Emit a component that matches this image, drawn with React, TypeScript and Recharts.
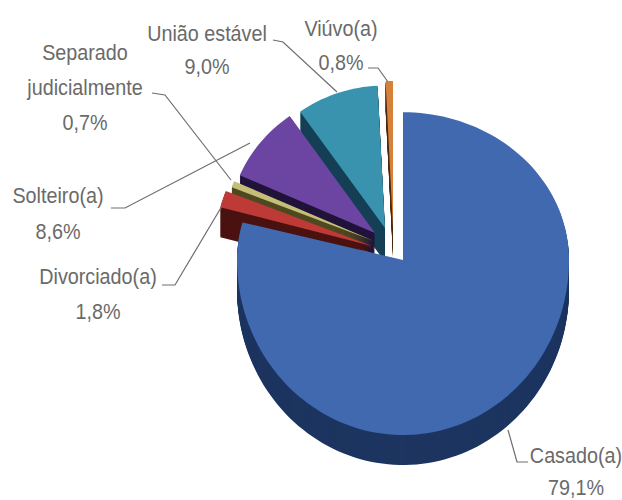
import React from "react";
import { PieChart, Pie } from "recharts";

// Marital status shares, listed counter-clockwise from twelve o'clock so that
// the largest slice paints last and overlaps the pulled-out ones.
const categories = ["Viúvo(a)", "União estável", "Solteiro(a)", "Separado judicialmente", "Divorciado(a)", "Casado(a)"];
const shares = [0.8, 9.0, 8.6, 0.7, 1.8, 79.1];

const rows = categories.map((name, i) => ({ name, value: shares[i] }));

// Per-slice drawing style: pull-out from the pie centre, radius factor, tilt, colours, wall depth.
const sliceStyle: Record<string, { dx: number; dy: number; r: number; k: number; bottomK: number; top: string; side: string; depth: number }> = {
  "Viúvo(a)": { dx: -10, dy: -32, r: 0.885, k: 1.0, bottomK: 1.0, top: "#D5813A", side: "#4E2A12", depth: 29 },
  "União estável": { dx: -18, dy: -32, r: 0.885, k: 0.97, bottomK: 0.97, top: "#3A93AE", side: "#153F55", depth: 34 },
  "Solteiro(a)": { dx: -28, dy: -27, r: 0.89, k: 0.97, bottomK: 0.97, top: "#6C45A2", side: "#21143A", depth: 22 },
  "Separado judicialmente": { dx: -29, dy: -19, r: 0.92, k: 0.97, bottomK: 0.97, top: "#C4BE78", side: "#4E4A20", depth: 8 },
  "Divorciado(a)": { dx: -31, dy: -14, r: 0.945, k: 0.97, bottomK: 0.97, top: "#BE3A37", side: "#4A1210", depth: 30 },
  "Casado(a)": { dx: 0, dy: 0, r: 1, k: 0.89, bottomK: 1.054, top: "#4169AF", side: "#1D3560", depth: 30 },
};

// Text block and leader polyline for each slice's callout.
const calloutStyle: Record<string, { lines: string[]; x: number; y: number; gap: number; leader: [number, number][] }> = {
  "Viúvo(a)": { lines: ["Viúvo(a)"], x: 341, y: 36, gap: 34, leader: [[368, 68], [378, 68], [388, 82]] },
  "União estável": { lines: ["União estável"], x: 207, y: 41, gap: 33, leader: [[273, 40], [283, 42], [337, 92]] },
  "Solteiro(a)": { lines: ["Solteiro(a)"], x: 58, y: 203, gap: 36, leader: [[111, 208], [125, 208], [250, 143]] },
  "Separado judicialmente": { lines: ["Separado", "judicialmente"], x: 85, y: 60, gap: 35, leader: [[152, 93], [165, 95], [231, 180]] },
  "Divorciado(a)": { lines: ["Divorciado(a)"], x: 98, y: 284, gap: 35, leader: [[162, 285], [175, 285], [222, 206]] },
  "Casado(a)": { lines: ["Casado(a)"], x: 576, y: 463, gap: 32, leader: [[508, 430], [517, 462], [528, 462]] },
};

const formatShare = (v: number) => `${v.toFixed(1).replace(".", ",")}%`;

// Slice face outline on the tilted disc: the upper half is squashed by k, the lower half by bottomK.
function faceOutline(cx: number, cy: number, R: number, k: number, bottomK: number, start: number, end: number) {
  const steps = Math.max(4, Math.ceil(Math.abs(end - start) / 2));
  const pts: [number, number][] = [[cx, cy]];
  for (let i = 0; i <= steps; i++) {
    const a = ((start + ((end - start) * i) / steps) * Math.PI) / 180;
    const s = Math.sin(a);
    pts.push([cx + R * Math.cos(a), cy - R * s * (s > 0 ? k : bottomK)]);
  }
  return pts;
}

const toPath = (pts: [number, number][], oy = 0) =>
  "M" + pts.map(([x, y]) => `${x.toFixed(1)},${(y + oy).toFixed(1)}`).join("L") + "Z";

function TiltedSlice(props: any) {
  const { cx, cy, outerRadius, startAngle, endAngle, name } = props;
  const st = sliceStyle[name];
  const pts = faceOutline(cx + st.dx, cy + st.dy, outerRadius * st.r, st.k, st.bottomK, startAngle, endAngle);
  const layers = Array.from({ length: st.depth }, (_, i) => st.depth - i);
  return (
    <g>
      {layers.map((o) => (
        <path key={o} d={toPath(pts, o)} fill={st.side} />
      ))}
      <path d={toPath(pts)} fill={st.top} />
    </g>
  );
}

function Callout(props: any) {
  const { name, value } = props;
  const c = calloutStyle[name];
  const all = [...c.lines, formatShare(value)];
  return (
    <g>
      <polyline points={c.leader.map((p) => p.join(",")).join(" ")} fill="none" stroke="#6E6E6E" strokeWidth={1.2} />
      {all.map((t, i) => (
        <text
          key={t}
          transform={`translate(${c.x},${c.y + i * c.gap}) scale(0.92,1)`}
          textAnchor="middle"
          fontFamily='"Liberation Sans", sans-serif'
          fontSize={21.5}
          fill="#6A6A6A"
        >
          {t}
        </text>
      ))}
    </g>
  );
}

export default function App() {
  return (
    <div style={{ position: "absolute", left: 0, top: 0, width: 622, height: 500, background: "#fff" }}>
      <PieChart width={622} height={500} margin={{ top: 0, right: 0, bottom: 0, left: 0 }}>
        <Pie
          data={rows}
          dataKey="value"
          nameKey="name"
          cx={403}
          cy={260}
          outerRadius={166}
          startAngle={90}
          endAngle={450}
          stroke="none"
          isAnimationActive={false}
          shape={TiltedSlice}
          label={Callout}
          labelLine={false}
        />
      </PieChart>
    </div>
  );
}
